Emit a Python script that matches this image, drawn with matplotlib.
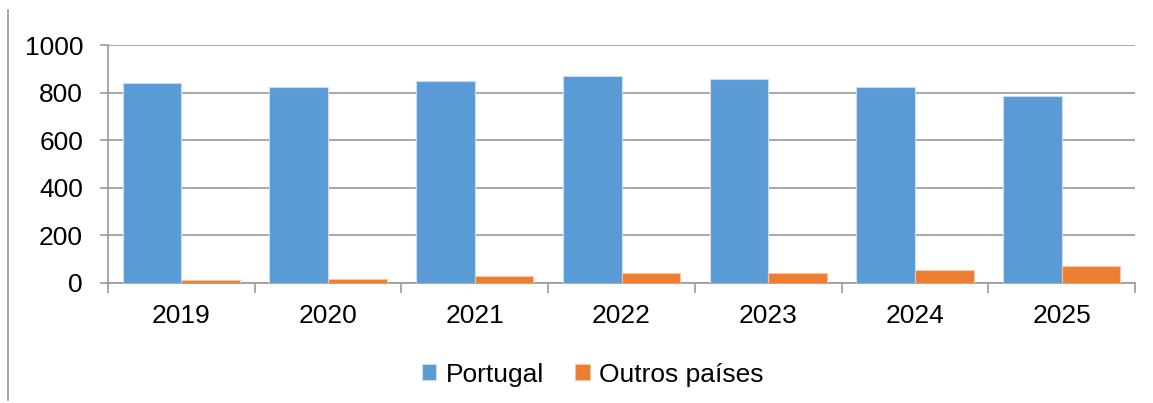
import matplotlib.pyplot as plt
from matplotlib.lines import Line2D
import numpy as np

# values
years = ['2019', '2020', '2021', '2022', '2023', '2024', '2025']
portugal = [840, 823, 848, 869, 857, 825, 786]
outros = [12, 17, 30, 42, 41, 56, 71]

plt.rcParams['font.family'] = ['Liberation Sans', 'DejaVu Sans']

fig = plt.figure(figsize=(11.53, 4.03), dpi=100)
ax = fig.add_axes([0.0937, 0.2978, 0.8907, 0.5905])

x = np.arange(len(years))
ax.bar(x - 0.2, portugal, width=0.4, color='#5B9BD5', edgecolor='#C9DDF0',
       linewidth=0.8, label='Portugal', zorder=3)
ax.bar(x + 0.2, outros, width=0.4, color='#ED7D31', edgecolor='#F6C6A4',
       linewidth=0.8, label='Outros países', zorder=3)

ax.set_xlim(-0.5, len(years) - 0.5)
ax.set_ylim(0, 1000)
ax.set_yticks(range(0, 1001, 200))
ax.grid(axis='y', color='#9A9A9A', linewidth=1.2, zorder=0)

# category labels in the middle, tick marks on the boundaries
ax.set_xticks(x)
ax.set_xticklabels(years)
ax.tick_params(axis='x', length=0, pad=15, labelsize=19)
ax.set_xticks(np.arange(-0.5, len(years)), minor=True)
ax.tick_params(axis='x', which='minor', length=7, color='#9A9A9A', width=1.2)
ax.tick_params(axis='y', length=6, color='#9A9A9A', width=1.2, labelsize=19, pad=12)

for side in ['top', 'right']:
    ax.spines[side].set_visible(False)
for side in ['left', 'bottom']:
    ax.spines[side].set_color('#9A9A9A')
    ax.spines[side].set_linewidth(1.2)

ax.legend(loc='upper center', bbox_to_anchor=(0.472, -0.235), ncol=2, frameon=False,
          fontsize=19, handlelength=0.55, handleheight=0.55, handletextpad=0.35,
          columnspacing=1.2)

# left edge of the surrounding frame
fig.add_artist(Line2D([8 / 1153, 8 / 1153], [3 / 403, 393 / 403],
                      color='#9A9A9A', linewidth=1.2))

fig.savefig('out.png', dpi=100)
